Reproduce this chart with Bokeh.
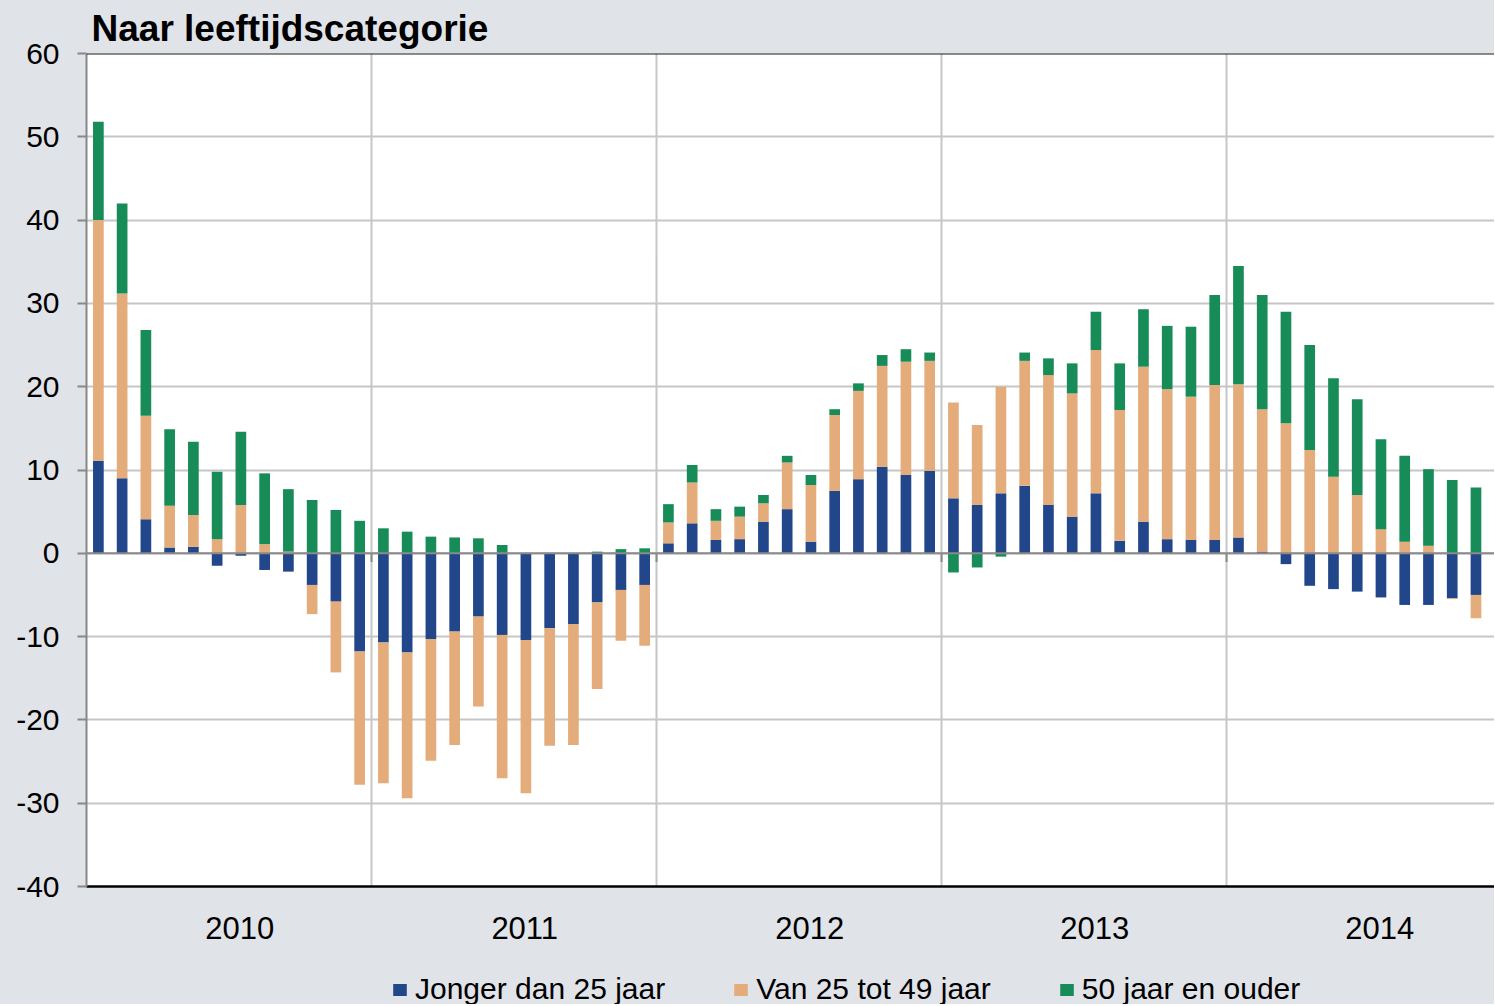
import numpy as np
from bokeh.plotting import figure
from bokeh.layouts import column
from bokeh.models import Range1d, FixedTicker, Span, Legend, LegendItem, ColumnDataSource
from bokeh.embed import file_html
from bokeh.resources import INLINE

# ---- data (monthly, Jan 2010 - Dec 2014) ----
jonger = [11.1, 9.0, 4.1, 0.7, 0.8, -1.5, -0.3, -2.0, -2.2, -3.8, -5.8, -11.8,
          -10.7, -11.9, -10.3, -9.4, -7.6, -9.8, -10.4, -9.0, -8.5, -5.9, -4.4, -3.8,
          1.2, 3.6, 1.6, 1.7, 3.8, 5.3, 1.4, 7.5, 8.9, 10.4, 9.4, 9.9,
          6.6, 5.8, 7.2, 8.1, 5.8, 4.4, 7.2, 1.5, 3.8, 1.7, 1.6, 1.6,
          1.9, 0.2, -1.3, -3.9, -4.3, -4.6, -5.3, -6.2, -6.2, -5.4, -5.0, -6.9]
midden = [28.9, 22.2, 12.4, 5.0, 3.8, 1.7, 5.8, 1.1, 0.2, -3.5, -8.5, -16.0,
          -16.9, -17.5, -14.6, -13.6, -10.8, -17.2, -18.4, -14.1, -14.5, -10.4, -6.1, -7.3,
          2.5, 4.9, 2.3, 2.7, 2.2, 5.6, 6.8, 9.1, 10.6, 12.1, 13.6, 13.2,
          11.5, 9.6, 12.8, 15.0, 15.6, 14.8, 17.2, 15.7, 18.6, 18.0, 17.2, 18.6,
          18.4, 17.1, 15.6, 12.4, 9.2, 7.0, 2.9, 1.4, 0.9, -0.1, -2.8, -5.9]
ouder = [11.8, 10.8, 10.3, 9.2, 8.8, 8.1, 8.8, 8.5, 7.5, 6.4, 5.2, 3.9,
         3.0, 2.6, 2.0, 1.9, 1.8, 1.0, 0.0, 0.0, 0.0, 0.2, 0.5, 0.6,
         2.2, 2.1, 1.4, 1.2, 1.0, 0.8, 1.2, 0.7, 0.9, 1.3, 1.5, 1.0,
         -2.3, -1.7, -0.4, 1.0, 2.0, 3.6, 4.6, 5.6, 6.9, 7.6, 8.4, 10.8,
         14.2, 13.7, 13.4, 12.6, 11.8, 11.5, 10.8, 10.3, 9.2, 8.8, 7.9, 6.6]
series_names = ["Jonger dan 25 jaar", "Van 25 tot 49 jaar", "50 jaar en ouder"]
series_colors = ["#22468a", "#e5ac7b", "#178c58"]
years = ["2010", "2011", "2012", "2013", "2014"]
year_label_pos = [6.45, 18.45, 30.45, 42.45, 54.45]
year_bounds = [12, 24, 36, 48]
y_ticks = [-40, -30, -20, -10, 0, 10, 20, 30, 40, 50, 60]

BG = "#e0e3e8"
FONT = "Liberation Sans"

p = figure(width=1494, height=959, output_backend="svg", toolbar_location=None,
           x_range=Range1d(0, 59.28), y_range=Range1d(-40, 60),
           min_border_left=86, min_border_right=0, min_border_top=53,
           min_border_bottom=73,
           background_fill_color="white", border_fill_color=BG,
           outline_line_color=None, title="Naar leeftijdscategorie")

p.title.text_font = FONT
p.title.text_font_style = "bold"
p.title.text_font_size = "37px"
p.title.text_color = "black"
p.title.offset = 5
p.title.standoff = 10

x = np.arange(len(jonger)) + 0.5
pos_base = np.zeros(len(x))
neg_base = np.zeros(len(x))
for vals, col in zip([jonger, midden, ouder], series_colors):
    v = np.array(vals, dtype=float)
    bottom = np.where(v >= 0, pos_base, neg_base)
    top = bottom + v
    pos_base = np.where(v >= 0, top, pos_base)
    neg_base = np.where(v < 0, top, neg_base)
    p.vbar(x=x, bottom=bottom, top=top, width=0.45, fill_color=col, line_color=None)

# grids
p.ygrid.ticker = FixedTicker(ticks=y_ticks)
p.ygrid.grid_line_color = "#c6c6c6"
p.ygrid.grid_line_width = 2
p.xgrid.ticker = FixedTicker(ticks=year_bounds)
p.xgrid.grid_line_color = "#c6c6c6"
p.xgrid.grid_line_width = 2

# zero line and top border
p.add_layout(Span(location=0, dimension="width", line_color="#8a8a8a", line_width=2))
p.add_layout(Span(location=60, dimension="width", line_color="#1a1a1a", line_width=2))
# small category tick marks under the zero line
tick_len = 1.05
p.segment(x0=year_bounds, y0=[0] * len(year_bounds), x1=year_bounds,
          y1=[-tick_len] * len(year_bounds), line_color="#8a8a8a", line_width=2)

# y axis
ya = p.yaxis[0]
ya.ticker = FixedTicker(ticks=y_ticks)
ya.major_label_overrides = {t: str(t) for t in y_ticks}
ya.axis_line_color = "#888888"
ya.axis_line_width = 2
ya.major_tick_line_color = "#888888"
ya.major_tick_line_width = 2
ya.major_tick_out = 9
ya.major_tick_in = 0
ya.minor_tick_line_color = None
ya.major_label_text_font = FONT
ya.major_label_text_font_size = "30px"
ya.major_label_text_color = "black"
ya.major_label_standoff = 18

# x axis
xa = p.xaxis[0]
xa.ticker = FixedTicker(ticks=year_label_pos)
xa.major_label_overrides = {pos: lab for pos, lab in zip(year_label_pos, years)}
xa.axis_line_color = "black"
xa.axis_line_width = 2.5
xa.major_tick_line_color = None
xa.major_tick_out = 0
xa.major_tick_in = 0
xa.minor_tick_line_color = None
xa.major_label_text_font = FONT
xa.major_label_text_font_size = "31px"
xa.major_label_text_color = "black"
xa.major_label_standoff = 30

# legend strip below the chart
lg = figure(width=1494, height=45, output_backend="svg", toolbar_location=None,
            x_range=Range1d(0, 1), y_range=Range1d(0, 1),
            x_axis_type=None, y_axis_type=None,
            min_border_left=0, min_border_right=0, min_border_top=0, min_border_bottom=0,
            background_fill_color=None, border_fill_color=BG, outline_line_color=None)
lg.grid.visible = False
items = []
for name, col in zip(series_names, series_colors):
    # swatch-only renderer, its single bar lies outside the visible strip
    r = lg.vbar(x="x", top="top", width=0.1, fill_color=col, line_color=None,
                source=ColumnDataSource(data=dict(x=[-5], top=[-5])))
    items.append(LegendItem(label=name, renderers=[r]))
legend = Legend(items=items, orientation="horizontal", location=(305, -2),
                glyph_width=17, glyph_height=15, label_standoff=7, spacing=67,
                padding=0, margin=0, background_fill_alpha=0, border_line_color=None,
                label_text_font=FONT, label_text_font_size="30px", label_text_color="black")
lg.add_layout(legend, "center")

layout = column(p, lg, spacing=0, styles={"background-color": BG})
open("out.html", "w").write(file_html(layout, INLINE))
